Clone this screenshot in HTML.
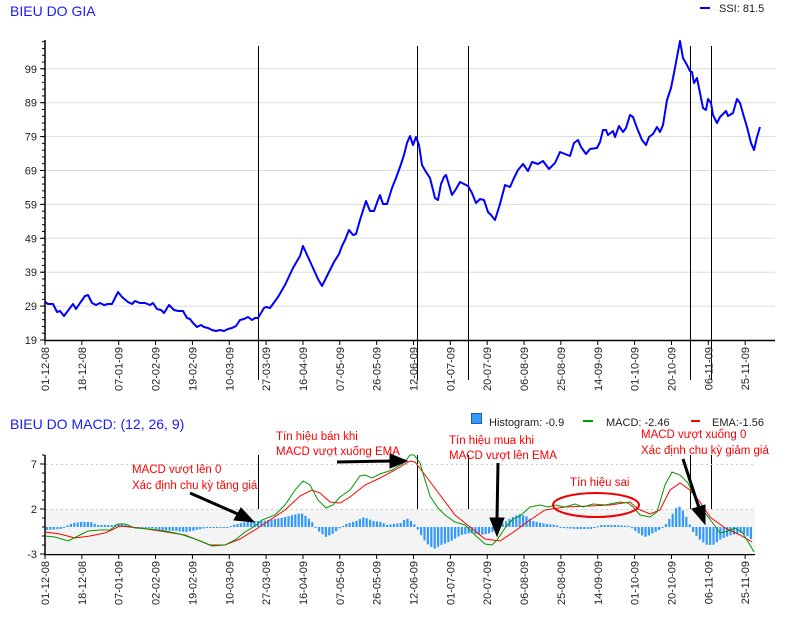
<!DOCTYPE html>
<html><head><meta charset="utf-8"><style>
body{margin:0;background:#fff;}
svg{display:block;font-family:"Liberation Sans",sans-serif;}
.t{font-size:11px;fill:#222;}
.r{font-size:11.5px;fill:#f00;}
</style></head><body>
<svg id="s" width="792" height="620" viewBox="0 0 792 620" xmlns="http://www.w3.org/2000/svg">
<text x="10" y="16" font-size="14" fill="#1a1aff">BIEU DO GIA</text>
<line x1="700" y1="8" x2="710" y2="8" stroke="#00f" stroke-width="2"/>
<text x="719" y="12" class="t">SSI: 81.5</text>
<g id="grid1" stroke="#ddd" stroke-width="1"></g>
<g id="vl" stroke="#000" stroke-width="1">
<line x1="258.5" y1="46" x2="258.5" y2="380"/><line x1="417.5" y1="46" x2="417.5" y2="380"/><line x1="468.5" y1="46" x2="468.5" y2="380"/><line x1="690.5" y1="46" x2="690.5" y2="380"/><line x1="711.5" y1="46" x2="711.5" y2="380"/>
<line x1="258.5" y1="455" x2="258.5" y2="555"/><line x1="417.5" y1="455" x2="417.5" y2="555"/><line x1="468.5" y1="455" x2="468.5" y2="555"/><line x1="690.5" y1="455" x2="690.5" y2="555"/><line x1="711.5" y1="455" x2="711.5" y2="555"/>
</g>
<polyline fill="none" stroke="#00f" stroke-width="2" stroke-linejoin="round" points="45,302 48,304 53,304 57,312 60,311 64,316 70,308 73,304 76,309 80,303 85,296 88,295 92,303 96,305 100,303 104,305 108,304 112,304 118,292 122,297 128,302 132,304 135,301 140,303 145,303 150,305 153,303 157,309 161,310 164,313 169,305 174,310 178,311 183,311 187,318 190,319 193,323 197,327 201,325 204,327 208,328 212,330 216,331 220,330 224,331 228,329 232,328 236,326 240,320 244,319 248,317 252,320 255,318 258,318 264,308 266,307 270,308 278,297 285,285 293,268 300,256 303,246 308,257 313,268 318,279 322,286 328,274 334,262 339,254 342,246 345,240 349,230 353,235 356,234 360,220 366,201 370,211 374,211 378,200 380,195 383,204 387,204 392,188 396,178 400,167 404,155 407,143 410,136 413,145 416,137 419,145 422,165 426,172 430,178 435,198 438,200 441,184 444,177 446,175 452,195 456,189 460,182 464,184 468,186 472,193 476,203 480,199 484,200 488,212 491,215 495,220 500,204 505,185 510,187 514,178 518,170 523,164 528,171 532,162 538,164 543,161 549,169 555,163 560,152 570,156 574,143 578,140 581,147 586,154 590,149 597,148 600,142 603,130 606,130 608,135 613,131 615,137 619,126 623,132 626,128 630,115 633,117 637,128 642,140 646,145 649,137 653,134 657,127 660,132 663,125 667,100 671,88 674,73 677,57 680,41 683,58 687,65 690,71 692,72 694,83 697,78 700,93 703,108 706,110 708,99 711,103 713,115 717,123 720,117 726,111 728,116 733,113 737,99 740,103 744,117 747,127 751,143 754,150 757,137 760,127"/>
<g stroke="#000" stroke-width="1.5"><line x1="45" y1="40" x2="45" y2="341"/><line x1="44" y1="340.5" x2="775" y2="340.5"/>
<line x1="45" y1="455" x2="45" y2="555"/><line x1="44" y1="554.5" x2="755" y2="554.5"/></g>
<g id="ax" stroke="#000" stroke-width="1"></g>
<g id="lab" class="t"></g>
<text x="10" y="429" font-size="14" fill="#1a1aff">BIEU DO MACD: (12, 26, 9)</text>
<rect x="471.5" y="413.5" width="10" height="10" fill="#3399ff" stroke="#1c5fa8"/>
<text x="489" y="426" class="t" font-size="12">Histogram: -0.9</text>
<line x1="583" y1="421" x2="593" y2="421" stroke="#090" stroke-width="2"/>
<text x="606" y="426" class="t" font-size="12">MACD: -2.46</text>
<line x1="691" y1="421" x2="700" y2="421" stroke="#f00" stroke-width="2"/>
<text x="712" y="426" class="t" font-size="12">EMA:-1.56</text>
<rect x="46" y="509" width="709" height="45" fill="#f4f4f4"/>
<g stroke="#ccc" stroke-dasharray="2,3"><line x1="46" y1="464.5" x2="755" y2="464.5"/><line x1="46" y1="509.5" x2="755" y2="509.5"/></g>
<g id="hist" fill="#3399ff"></g>
<polyline fill="none" stroke="#f00" stroke-width="1" points="45,532 60,534 75,538 90,536 105,533 120,526 140,528 160,531 185,535 210,545 225,545 240,539 258,528 270,520 285,510 300,496 312,490 320,493 330,502 340,503 350,497 365,485 380,478 395,470 410,461 415,462 425,475 440,495 455,515 470,527 485,539 500,541 515,531 530,520 545,510 565,507 590,506 610,505 630,502 638,509 650,514 660,510 670,490 680,483 690,490 700,502 710,517 725,528 740,535 752,542"/>
<polyline fill="none" stroke="#090" stroke-width="1" points="45,536 55,537 68,541 78,536 88,531 100,530 110,530 118,524 125,524 135,528 150,529 165,531 180,534 195,539 212,546 225,545 235,540 245,532 255,526 262,520 275,515 285,505 295,490 303,481 310,485 318,500 326,508 333,505 340,497 350,490 360,476 365,475 372,478 380,474 392,470 405,462 410,455 414,455 420,463 425,480 430,496 438,508 445,515 455,522 465,525 475,535 485,544 492,545 497,540 505,528 513,519 520,516 530,507 540,505 548,507 555,505 565,507 575,504 583,507 593,504 605,505 620,502 628,503 633,507 640,515 650,517 657,512 665,485 672,472 680,475 688,483 696,500 705,513 712,522 720,533 728,531 735,528 742,532 750,545 754,552"/>
<text x="132" y="473" class="r">MACD vượt lên 0</text>
<text x="132" y="489" class="r">Xác định chu kỳ tăng giá</text>
<text x="276" y="440" class="r">Tín hiệu bán khi</text>
<text x="276" y="455" class="r">MACD vượt xuống EMA</text>
<text x="449" y="444" class="r">Tín hiệu mua khi</text>
<text x="449" y="459" class="r">MACD vượt lên EMA</text>
<text x="570" y="486" class="r">Tín hiệu sai</text>
<text x="641" y="438" class="r">MACD vượt xuống 0</text>
<text x="641" y="454" class="r">Xác định chu kỳ giảm giá</text>
<ellipse cx="596" cy="505" rx="43" ry="12" fill="none" stroke="#e00" stroke-width="2"/>
<g stroke="#000" stroke-width="3" fill="#000">
<line x1="190" y1="493" x2="240" y2="515"/><polygon points="254,522 234,520 241,508" stroke-width="1"/>
<line x1="337" y1="462" x2="392" y2="461"/><polygon points="407,461 390,454 390,468" stroke-width="1"/>
<line x1="498" y1="463" x2="497" y2="520"/><polygon points="497,536 490,518 504,518" stroke-width="1"/>
<line x1="683" y1="459" x2="699" y2="508"/><polygon points="705,524 692,509 705,505" stroke-width="1"/>
</g>
</svg>
<script>
var NS="http://www.w3.org/2000/svg",s=document.getElementById('s');
function el(p,t,a,txt){var e=document.createElementNS(NS,t);for(var k in a)e.setAttribute(k,a[k]);if(txt)e.textContent=txt;document.getElementById(p).appendChild(e);}
for(var v=19;v<=99;v+=10){var y=340-(v-19)*3.39;if(v>19)el('grid1','line',{x1:46,x2:775,y1:y,y2:y});el('ax','line',{x1:40,x2:45,y1:y,y2:y});el('lab','text',{x:37,y:y+4,'text-anchor':'end'},v);}
for(var v=21;v<=107;v+=2){var y=340-(v-19)*3.39;if(y>40)el('ax','line',{x1:42,x2:45,y1:y,y2:y});}
[[7,464],[2,509],[-3,554]].forEach(function(a){el('ax','line',{x1:40,x2:45,y1:a[1],y2:a[1]});el('lab','text',{x:37,y:a[1]+4,'text-anchor':'end'},a[0]);});
for(var v=-2;v<=8;v++){var y=527-v*9;el('ax','line',{x1:42,x2:45,y1:y,y2:y});}
var L=["01-12-08","18-12-08","07-01-09","02-02-09","19-02-09","10-03-09","27-03-09","16-04-09","07-05-09","26-05-09","12-06-09","01-07-09","20-07-09","06-08-09","25-08-09","14-09-09","01-10-09","20-10-09","06-11-09","25-11-09"];
L.forEach(function(t,i){var x=45+i*36.85;
 el('ax','line',{x1:x,x2:x,y1:341,y2:345});el('ax','line',{x1:x,x2:x,y1:555,y2:559});
 el('lab','text',{x:0,y:0,transform:'translate('+(x+4)+',347) rotate(-90)','text-anchor':'end'},t);
 el('lab','text',{x:0,y:0,transform:'translate('+(x+4)+',561) rotate(-90)','text-anchor':'end'},t);});
var K=[[45,-3],[60,-2],[65,1],[72,4],[80,5],[90,5],[96,2],[105,2],[112,2],[118,3],[125,2],[132,0],[140,-1],[150,-1],[160,-3],[175,-4],[185,-5],[195,-3],[205,-1],[225,-1],[232,2],[245,5],[255,6],[262,6],[280,9],[300,14],[306,10],[312,4],[316,-3],[325,-10],[333,-6],[340,0],[345,3],[355,6],[363,10],[372,6],[380,5],[386,2],[392,3],[400,4],[405,9],[410,6],[414,2],[418,-5],[425,-16],[433,-22],[440,-18],[450,-14],[460,-8],[470,-6],[480,-8],[490,-6],[495,-2],[502,4],[510,9],[518,13],[525,11],[532,6],[545,3],[555,2],[562,-1],[575,-2],[590,-2],[600,2],[615,2],[628,1],[633,-3],[640,-8],[645,-10],[652,-6],[660,-2],[665,3],[672,14],[677,22],[683,15],[688,4],[692,-5],[700,-14],[706,-18],[712,-18],[720,-12],[730,-8],[740,-6],[748,-10],[753,-16]];
function hv(x){for(var i=1;i<K.length;i++){if(x<=K[i][0]){var a=K[i-1],b=K[i];return a[1]+(b[1]-a[1])*(x-a[0])/(b[0]-a[0]);}}return K[K.length-1][1];}
for(var x=46;x<=752;x+=3.4){var h=hv(x);var y0=527;el('hist','rect',{x:x.toFixed(1),width:2.2,y:h>0?y0-h:y0,height:Math.max(Math.abs(h),1)});}
</script>
</body></html>
